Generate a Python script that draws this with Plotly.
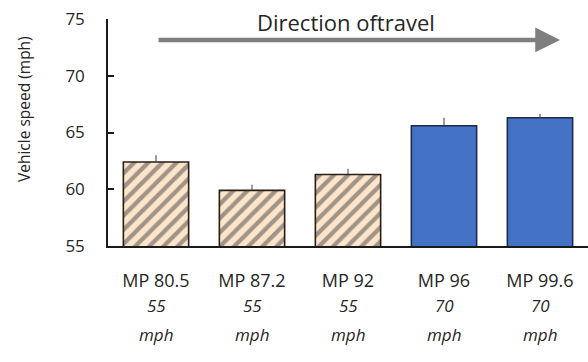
import plotly.graph_objects as go

# Mile-post locations, posted limits and mean vehicle speeds
milepost_labels = ["MP 80.5", "MP 87.2", "MP 92", "MP 96", "MP 99.6"]
speed_limits = ["55", "55", "55", "70", "70"]
mean_speeds = [62.4, 59.9, 61.3, 65.6, 66.3]
speed_errors = [0.6, 0.5, 0.5, 0.7, 0.35]
y_ticks = [55, 60, 65, 70, 75]

positions = list(range(len(milepost_labels)))
is_low_limit = [lim == "55" for lim in speed_limits]

FONT = "Open Sans"
TEXT = "#262626"

fig = go.Figure()
fig.add_trace(go.Bar(
    x=positions,
    y=mean_speeds,
    marker=dict(
        color=["#fde5cb" if low else "#4472c4" for low in is_low_limit],
        line=dict(color=["#2a1e14" if low else "#1c2b4a" for low in is_low_limit], width=1.6),
        pattern=dict(
            shape=["/" if low else "" for low in is_low_limit],
            fgcolor="#c8925e",
            size=10,
            solidity=0.42,
        ),
    ),
    error_y=dict(
        type="data",
        array=speed_errors,
        arrayminus=[0] * len(speed_errors),
        color="#3a3a3a",
        thickness=1,
        width=0,
    ),
    showlegend=False,
))

annotations = []
# Posted speed limit under each mile-post label
for i, lim in enumerate(speed_limits):
    annotations.append(dict(
        x=i, y=-0.262, xref="x", yref="paper",
        text=f"<i>{lim}</i>", showarrow=False,
        font=dict(family=FONT, size=17, color=TEXT),
        xanchor="center", yanchor="middle",
    ))
    annotations.append(dict(
        x=i, y=-0.39, xref="x", yref="paper",
        text="<i>mph</i>", showarrow=False,
        font=dict(family=FONT, size=17, color=TEXT),
        xanchor="center", yanchor="middle",
    ))

# Direction-of-travel arrow and caption
annotations.append(dict(
    x=0.9417, y=0.9075, xref="paper", yref="paper",
    ax=-403, ay=0, text="", showarrow=True,
    arrowhead=2, arrowsize=1.1, arrowwidth=4.5, arrowcolor="#7f7f7f",
    standoff=0,
))
annotations.append(dict(
    x=0.496, y=0.985, xref="paper", yref="paper",
    text="Direction oftravel", showarrow=False,
    font=dict(family=FONT, size=22, color=TEXT),
    xanchor="center", yanchor="middle",
))

# Y-axis title
annotations.append(dict(
    x=-0.175, y=0.6035, xref="paper", yref="paper",
    text="Vehicle speed (mph)", textangle=-90, showarrow=False,
    font=dict(family=FONT, size=15.5, color=TEXT),
    xanchor="center", yanchor="middle",
))

fig.update_layout(
    width=588,
    height=362,
    margin=dict(l=108, r=0, t=19, b=116),
    paper_bgcolor="white",
    plot_bgcolor="white",
    bargap=0.32,
    annotations=annotations,
    font=dict(family=FONT, color=TEXT),
)

fig.update_xaxes(
    range=[-0.5, 4.5],
    tickmode="array",
    tickvals=positions,
    ticktext=milepost_labels,
    tickfont=dict(family=FONT, size=18, color=TEXT),
    ticks="",
    ticklabelstandoff=18,
    showline=True,
    linecolor="#1a1a1a",
    linewidth=1.5,
    showgrid=False,
    zeroline=False,
)

fig.update_yaxes(
    range=[55, 75],
    tickmode="array",
    tickvals=y_ticks,
    tickfont=dict(family=FONT, size=17, color=TEXT),
    ticks="inside",
    ticklen=6,
    tickcolor="#1a1a1a",
    tickwidth=1.5,
    ticklabelstandoff=18,
    showline=True,
    linecolor="#1a1a1a",
    linewidth=1.5,
    showgrid=False,
    zeroline=False,
)

fig.write_html("out.html")
